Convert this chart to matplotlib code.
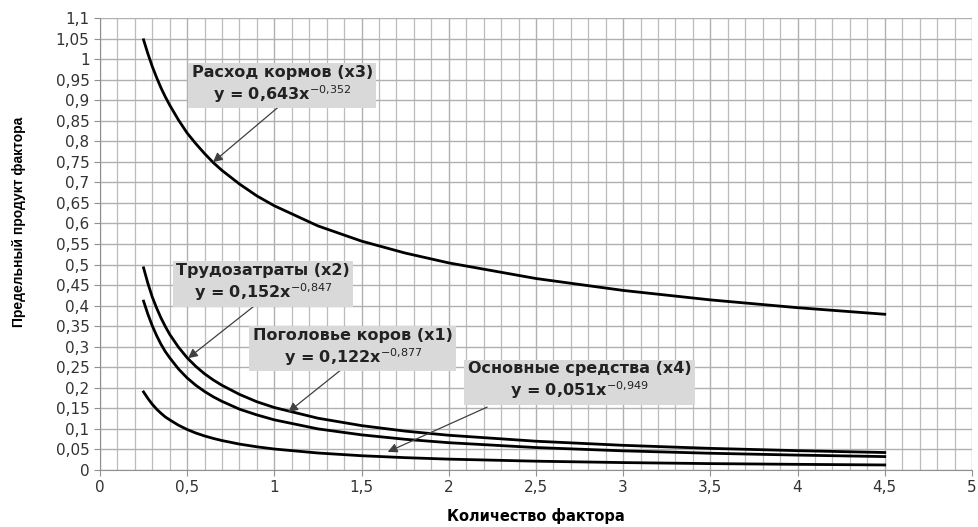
import matplotlib.pyplot as plt
from matplotlib.ticker import MultipleLocator, FuncFormatter

# Значения
x = [0.25, 0.275, 0.3, 0.325, 0.35, 0.375, 0.4, 0.45, 0.5, 0.55, 0.6, 0.65,
     0.7, 0.8, 0.9, 1.0, 1.25, 1.5, 1.75, 2.0, 2.5, 3.0, 3.5, 4.0, 4.5]
feed_x3 = [1.047, 1.013, 0.982, 0.955, 0.930, 0.908, 0.888, 0.852, 0.820,
           0.794, 0.770, 0.748, 0.729, 0.696, 0.667, 0.643, 0.594, 0.557,
           0.528, 0.504, 0.466, 0.437, 0.414, 0.395, 0.379]
labour_x2 = [0.492, 0.454, 0.421, 0.394, 0.370, 0.349, 0.330, 0.299, 0.273,
             0.252, 0.234, 0.219, 0.206, 0.184, 0.166, 0.152, 0.126, 0.108,
             0.0946, 0.0845, 0.0700, 0.0600, 0.0526, 0.0470, 0.0425]
cows_x1 = [0.411, 0.379, 0.351, 0.327, 0.306, 0.288, 0.273, 0.246, 0.224,
           0.206, 0.191, 0.178, 0.167, 0.148, 0.134, 0.122, 0.100, 0.0855,
           0.0747, 0.0664, 0.0546, 0.0466, 0.0407, 0.0362, 0.0326]
assets_x4 = [0.190, 0.174, 0.160, 0.148, 0.138, 0.129, 0.122, 0.109, 0.0985,
             0.0899, 0.0828, 0.0768, 0.0716, 0.0630, 0.0564, 0.051, 0.0413,
             0.0347, 0.0300, 0.0264, 0.0214, 0.0180, 0.0155, 0.0137, 0.0122]

series = [feed_x3, labour_x2, cows_x1, assets_x4]

# подписи: текст, центр рамки, начало стрелки, острие стрелки
labels = [
    ('Расход кормов (x3)\ny = 0,643x$^{-0{,}352}$', (1.045, 0.938), (1.05, 0.893), (0.648, 0.749)),
    ('Трудозатраты (x2)\ny = 0,152x$^{-0{,}847}$', (0.935, 0.455), (0.89, 0.401), (0.505, 0.272)),
    ('Поголовье коров (x1)\ny = 0,122x$^{-0{,}877}$', (1.45, 0.297), (1.38, 0.243), (1.08, 0.141)),
    ('Основные средства (x4)\ny = 0,051x$^{-0{,}949}$', (2.75, 0.216), (2.22, 0.153), (1.65, 0.044)),
]

plt.rcParams['mathtext.fontset'] = 'dejavusans'

fig = plt.figure(figsize=(9.79, 5.27), dpi=100)
ax = fig.add_axes([0.1021, 0.1082, 0.8907, 0.8576])

for y in series:
    ax.plot(x, y, color='black', lw=2.0)

for text, box, start, tip in labels:
    ax.annotate('', xy=tip, xytext=start,
                arrowprops=dict(arrowstyle='-|>', color='#404040', lw=0.9,
                                mutation_scale=14, shrinkA=0, shrinkB=0))
    ax.text(box[0], box[1], text, ha='center', va='center', fontsize=11.5,
            fontweight='bold', color='#222222', linespacing=1.2,
            bbox=dict(boxstyle='square,pad=0.22', fc='#d9d9d9', ec='none'))

ax.set_xlim(0, 5)
ax.set_ylim(0, 1.1)
ax.xaxis.set_major_locator(MultipleLocator(0.5))
ax.xaxis.set_minor_locator(MultipleLocator(0.1))
ax.yaxis.set_major_locator(MultipleLocator(0.05))
fmt = FuncFormatter(lambda v, p: ('%g' % round(v, 2)).replace('.', ','))
ax.xaxis.set_major_formatter(fmt)
ax.yaxis.set_major_formatter(fmt)

ax.grid(which='major', color='#b0b0b0', lw=1.0)
ax.grid(which='minor', axis='x', color='#bcbcbc', lw=0.9)
ax.set_axisbelow(True)
for side in ['top', 'right']:
    ax.spines[side].set_visible(False)
for side in ['left', 'bottom']:
    ax.spines[side].set_color('#909090')
ax.tick_params(axis='both', which='major', labelsize=11, colors='#909090',
               labelcolor='#333333', length=4)
ax.tick_params(axis='x', which='minor', length=0)

ax.set_xlabel('Количество фактора', fontsize=10.5, fontweight='bold')
ax.xaxis.set_label_coords(0.5, -0.085)
ax.set_ylabel('Предельный продукт фактора', fontsize=10, fontweight='bold',
              family=['Liberation Sans', 'DejaVu Sans'])
ax.yaxis.set_label_coords(-0.085, 0.549)

fig.savefig('out.png', dpi=100)
